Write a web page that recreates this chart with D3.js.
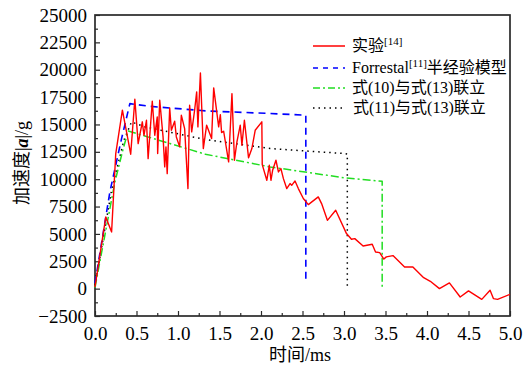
<!DOCTYPE html>
<html><head><meta charset="utf-8">
<script src="https://cdn.jsdelivr.net/npm/d3@7"></script>
<style>
body{margin:0;background:#fff;}
svg{display:block;}
text{font-family:"Liberation Serif","Times New Roman","Noto Sans CJK SC",serif;fill:#000;}
</style></head>
<body><svg id="c" width="526" height="365"></svg>
<script>
// Experimental data (实验[14])
const expT = [0,0.13,0.20,0.25,0.33,0.38,0.43,0.48,0.52,0.57,0.59,0.62,0.64,0.69,0.72,0.75,0.755,0.78,0.82,0.84,0.855,0.87,0.90,0.92,0.96,0.98,1.02,1.04,1.08,1.12,1.14,1.165,1.20,1.225,1.24,1.27,1.305,1.345,1.405,1.43,1.49,1.51,1.525,1.55,1.61,1.65,1.68,1.71,1.75,1.77,1.80,1.85,1.89,1.93,2.01,2.015,2.07,2.10,2.12,2.14,2.18,2.21,2.24,2.27,2.31,2.35,2.37,2.41,2.45,2.51,2.57,2.69,2.73,2.80,2.90,3.03,3.09,3.13,3.23,3.34,3.38,3.43,3.48,3.51,3.59,3.73,3.83,3.96,4.04,4.15,4.27,4.40,4.50,4.66,4.76,4.80,4.85,5.0];
const expV = [150,6550,5180,12340,16300,14320,12280,17300,13250,15240,14010,15380,11880,17120,14010,15690,12340,17210,13860,11120,12950,10510,16510,14470,15290,13860,12950,15840,14620,9140,16750,14320,16300,17980,14780,19700,12800,14930,13710,18340,14780,15900,14260,14380,11580,17820,11730,13410,14930,13100,15380,11950,12800,14470,15240,11330,9900,11270,9900,10810,11730,10660,10970,10050,9140,9600,9440,9840,9140,8230,7680,8380,7770,6240,7160,5030,4510,4570,3900,4050,3350,3290,2700,2900,3020,1980,1980,1000,670,0,520,-760,-210,-980,-150,-910,-980,-520];
// Forrestal[11] semi-empirical model
const forT = [0,0.18,0.32,0.42,0.66,1.33,2.11,2.54,2.54];
const forV = [500,8870,13700,16900,16660,16240,16000,15850,450];
// Eq.(10) + Eq.(13)
const e10T = [0,0.24,0.34,0.40,0.60,1.33,2.11,3.01,3.46,3.46];
const e10V = [100,9750,12800,14400,13950,12280,11120,10120,9800,100];
// Eq.(11) + Eq.(13)
const e11T = [0,0.20,0.35,0.44,0.60,1.33,2.11,3.01,3.04,3.04];
const e11V = [300,9000,13600,15230,14780,13620,12800,12340,12300,270];

const xTicks = [0,0.5,1.0,1.5,2.0,2.5,3.0,3.5,4.0,4.5,5.0];
const yTicks = [-2500,0,2500,5000,7500,10000,12500,15000,17500,20000,22500,25000];
const legendLabels = ["实验","Forrestal","式(10)与式(13)联立","式(11)与式(13)联立"];

const svg = d3.select("#c");
const L=95,R=510,T=15,B=316;
const x = d3.scaleLinear().domain([0,5]).range([L,R]);
const y = d3.scaleLinear().domain([-2500,25000]).range([B,T]);

const fmtY = v => v<0 ? "\u2212"+Math.abs(v) : String(v);

// axes with inward ticks
const axCol="#2a2a2a";
const gx = svg.append("g").attr("transform",`translate(0,${B})`)
  .call(d3.axisBottom(x).tickValues(xTicks).tickFormat(d3.format(".1f")).tickSize(-5).tickPadding(11));
const gxm = svg.append("g").attr("transform",`translate(0,${B})`)
  .call(d3.axisBottom(x).tickValues(d3.range(0.25,5,0.5)).tickFormat("").tickSize(-3));
const gy = svg.append("g").attr("transform",`translate(${L},0)`)
  .call(d3.axisLeft(y).tickValues(yTicks).tickFormat(fmtY).tickSize(-5).tickPadding(8));
const gym = svg.append("g").attr("transform",`translate(${L},0)`)
  .call(d3.axisLeft(y).tickValues(d3.range(-1250,25000,2500)).tickFormat("").tickSize(-3));
[gx,gxm,gy,gym].forEach(g=>{
  g.select(".domain").remove();
  g.selectAll(".tick line").attr("stroke",axCol).attr("stroke-width",1.2);
  g.selectAll("text").style("font-size","19px").attr("fill","#000");
});
gx.selectAll("text").attr("dy","0.71em");

// frame
svg.append("rect").attr("x",L).attr("y",T).attr("width",R-L).attr("height",B-T)
  .attr("fill","none").attr("stroke",axCol).attr("stroke-width",1.7);

const line = d3.line().x(d=>x(d[0])).y(d=>y(d[1]));
const zip=(a,b)=>a.map((v,i)=>[v,b[i]]);

const series = [
  {d:zip(e11T,e11V),c:"#000",dash:"1.5,4",w:1.5},
  {d:zip(e10T,e10V),c:"#22dd22",dash:"8,3,2,3",w:1.5},
  {d:zip(forT,forV),c:"#0000ff",dash:"7,5",w:1.6},
  {d:zip(expT,expV),c:"#ff0000",dash:null,w:1.4}
];
series.forEach(s=>{
  svg.append("path").datum(s.d).attr("d",line).attr("fill","none")
    .attr("stroke",s.c).attr("stroke-width",s.w).attr("stroke-linejoin","round")
    .attr("stroke-dasharray",s.dash);
});

// legend
const leg = [
  {c:"#ff0000",dash:null,y:46},
  {c:"#0000ff",dash:"5,5",y:68},
  {c:"#22dd22",dash:"7,3,2,3",y:88},
  {c:"#000",dash:"1.5,4",y:108}
];
leg.forEach((l,i)=>{
  svg.append("line").attr("x1",313).attr("x2",345).attr("y1",l.y).attr("y2",l.y)
    .attr("stroke",l.c).attr("stroke-width",1.5).attr("stroke-dasharray",l.dash);
  const t = svg.append("text").attr("x",i===3?353:352).attr("y",l.y+5).style("font-size","16px");
  if(i===0){ t.append("tspan").text(legendLabels[0]); t.append("tspan").attr("dy",-6).style("font-size","11px").text("[14]"); }
  else if(i===1){ t.append("tspan").text(legendLabels[1]); t.append("tspan").attr("dy",-6).style("font-size","11px").text("[11]");
    t.append("tspan").attr("dy",6).text("半经验模型"); }
  else t.text(legendLabels[i]);
});

// axis titles
svg.append("text").attr("x",300).attr("y",361).attr("text-anchor","middle").style("font-size","18px").text("时间/ms");
const yt = svg.append("text").attr("transform","translate(28,163) rotate(-90)").attr("text-anchor","middle").style("font-size","18px");
yt.append("tspan").text("加速度|");
yt.append("tspan").style("font-style","italic").style("font-weight","bold").text("a");
yt.append("tspan").text("|/g");
</script></body></html>
